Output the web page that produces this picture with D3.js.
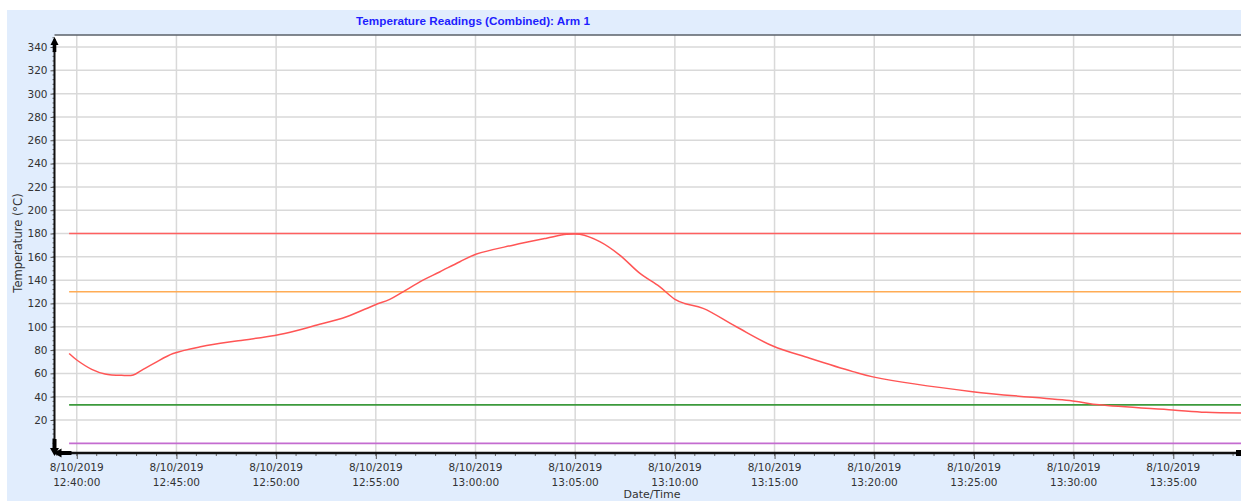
<!DOCTYPE html>
<html><head><meta charset="utf-8">
<script src="https://cdn.jsdelivr.net/npm/d3@7"></script>
<style>html,body{margin:0;padding:0;background:#fff;overflow:hidden}</style>
</head><body><svg id="c" width="1241" height="501"></svg>
<script>
const titleText = "Temperature Readings (Combined): Arm 1";
const yLabel = "Temperature (°C)";
const xLabel = "Date/Time";
const day = "2019-08-10";
const times = ["12:39:37","12:40:00","12:40:45","12:41:25","12:42:15","12:42:50","12:43:15","12:43:55","12:44:50","12:46:16","12:48:06","12:49:56","12:51:00","12:51:52","12:53:32","12:54:57","12:55:42","12:56:22","12:57:22","12:58:12","12:59:13","13:00:03","13:01:53","13:03:34","13:04:34","13:05:14","13:06:14","13:07:14","13:08:14","13:09:14","13:09:59","13:10:29","13:11:25","13:13:05","13:14:55","13:16:46","13:18:56","13:19:56","13:24:56","13:29:57","13:31:17","13:34:58","13:36:38","13:38:25"];
const temps = [77,71.5,63.5,59.5,58.3,58.6,62.6,69,77,83,88,92.5,96.5,100.6,108.6,118.7,123.5,130,140,147,155.8,162.4,170,176,179.3,179.3,173,161.5,146,134.4,123.8,120,115.8,100,83.5,73,61.5,57,44.3,36.3,33,28.6,26.6,26];
const thresholdValues = [180, 130, 33, 0];
const thresholdNames = ["High", "Warning", "Low", "Zero"];
const yTicks = [20,40,60,80,100,120,140,160,180,200,220,240,260,280,300,320,340];
const xTickTimes = ["12:40:00","12:45:00","12:50:00","12:55:00","13:00:00","13:05:00","13:10:00","13:15:00","13:20:00","13:25:00","13:30:00","13:35:00"];
const xTickDate = "8/10/2019";
const xDomain = ["12:38:53","13:38:25"];
const yDomain = [-8.3, 350.3];

const parse = d3.timeParse("%Y-%m-%d %H:%M:%S");
const T = s => parse(day + " " + s);
const data = times.map((t,i)=>({t:T(t), v:temps[i]}));

const svg = d3.select("#c");
const L = 54.5, R = 1241.4, TOP = 35, BOT = 453;
const x = d3.scaleTime().domain(xDomain.map(T)).range([L, R]);
const y = d3.scaleLinear().domain(yDomain).range([BOT, TOP]);

const font = "'DejaVu Sans', Verdana, sans-serif";
// background panel
svg.append("rect").attr("x",7).attr("y",10).attr("width",1241).attr("height",491).attr("fill","#e1edfd");
svg.append("rect").attr("x",L).attr("y",TOP).attr("width",R-L).attr("height",BOT-TOP).attr("fill","#fff");

// grid
const g = svg.append("g");
g.selectAll(".hg").data(yTicks).join("line")
  .attr("x1",L).attr("x2",R).attr("y1",d=>y(d)).attr("y2",d=>y(d))
  .attr("stroke","#d9d9d9").attr("stroke-width",1.5);
g.selectAll(".vg").data(xTickTimes).join("line")
  .attr("x1",d=>x(T(d))).attr("x2",d=>x(T(d))).attr("y1",TOP).attr("y2",BOT)
  .attr("stroke","#d9d9d9").attr("stroke-width",1.5);

// thresholds
const thColors = ["#ff6060","#ffac55","#3c9a3c","#c46cd0"];
const t0 = data[0].t, t1 = data[data.length-1].t;
svg.selectAll(".th").data(thresholdValues).join("line")
  .attr("x1",x(t0)).attr("x2",x(t1)).attr("y1",d=>y(d)).attr("y2",d=>y(d))
  .attr("stroke",(d,i)=>thColors[i]).attr("stroke-width",1.6);

// data line
svg.append("path").datum(data)
  .attr("d", d3.line().x(d=>x(d.t)).y(d=>y(d.v)).curve(d3.curveCatmullRom.alpha(0.5)))
  .attr("fill","none").attr("stroke","#ff5555").attr("stroke-width",1.5);

// top border
svg.append("line").attr("x1",L).attr("x2",R).attr("y1",TOP).attr("y2",TOP).attr("stroke","#5a6068").attr("stroke-width",1.5);

// y axis
const yAxis = d3.axisLeft(y).tickValues(yTicks).tickSize(4).tickPadding(3);
const ya = svg.append("g").attr("transform",`translate(${L},0)`).call(yAxis);
ya.select(".domain").remove();
ya.selectAll("text").attr("font-family",font).attr("font-size","10.5px").attr("fill","#333");
ya.selectAll("line").attr("stroke","#555");
const yMinor = d3.range(0, 350, 4);
svg.append("g").selectAll("line").data(yMinor).join("line")
  .attr("x1",L-2).attr("x2",L).attr("y1",d=>y(d)).attr("y2",d=>y(d)).attr("stroke","#666");

// x axis
const xAxis = d3.axisBottom(x).tickValues(xTickTimes.map(T)).tickSize(6).tickFormat("");
const xa = svg.append("g").attr("transform",`translate(0,${BOT})`).call(xAxis);
xa.select(".domain").remove();
xa.selectAll("line").attr("stroke","#555");
const minor = d3.timeSecond.every(75).range(T("12:38:45"), T("13:38:30"));
svg.append("g").selectAll("line").data(minor).join("line")
  .attr("x1",d=>x(d)).attr("x2",d=>x(d)).attr("y1",BOT).attr("y2",BOT+3).attr("stroke","#666");
const xl = svg.append("g").selectAll("text").data(xTickTimes).join("text")
  .attr("x",d=>x(T(d))).attr("text-anchor","middle")
  .attr("font-family",font).attr("font-size","10.5px").attr("fill","#333");
xl.append("tspan").attr("x",d=>x(T(d))).attr("y",471).text(xTickDate);
xl.append("tspan").attr("x",d=>x(T(d))).attr("y",486).text(d=>d);

// axis lines
svg.append("line").attr("x1",L).attr("x2",R).attr("y1",BOT).attr("y2",BOT).attr("stroke","#111").attr("stroke-width",2.5);
svg.append("line").attr("x1",L).attr("x2",L).attr("y1",TOP+4).attr("y2",BOT).attr("stroke","#111").attr("stroke-width",2);
// arrows
svg.append("path").attr("d",`M${L-4},${TOP+10} L${L},${TOP+2} L${L+4},${TOP+10} Z`).attr("fill","#000");
svg.append("rect").attr("x",L-1.8).attr("y",TOP+8).attr("width",3.6).attr("height",9).attr("fill","#000");
svg.append("rect").attr("x",L-2).attr("y",BOT-14).attr("width",4).attr("height",10).attr("fill","#000");
svg.append("path").attr("d",`M${L-4.5},${BOT-5} L${L},${BOT+3} L${L+4.5},${BOT-5} Z`).attr("fill","#000");
svg.append("rect").attr("x",L+4).attr("y",BOT-2).attr("width",13).attr("height",4).attr("fill","#000");
svg.append("path").attr("d",`M${L+7},${BOT-4.5} L${L-1},${BOT} L${L+7},${BOT+4.5} Z`).attr("fill","#000");
svg.append("rect").attr("x",1236).attr("y",BOT-3).attr("width",6).attr("height",6).attr("fill","#000");

// title & labels
svg.append("text").attr("x",473).attr("y",25).attr("text-anchor","middle")
  .attr("font-family","'Liberation Sans', Arial, sans-serif").attr("font-weight","bold").attr("font-size","11.7px")
  .attr("fill","#1e1eff").text(titleText);
svg.append("text").attr("transform","translate(22,243) rotate(-90)").attr("text-anchor","middle")
  .attr("font-family",font).attr("font-size","11.5px").attr("fill","#333").text(yLabel);
svg.append("text").attr("x",652).attr("y",498).attr("text-anchor","middle")
  .attr("font-family",font).attr("font-size","11px").attr("fill","#333").text(xLabel);
</script></body></html>
